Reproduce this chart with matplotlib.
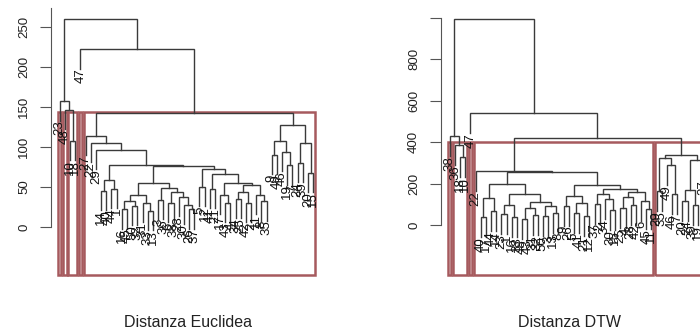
import matplotlib
matplotlib.use("Agg")
import matplotlib.pyplot as plt
from matplotlib.patches import Rectangle

# trees as nested (height, left, right); leaves are the series numbers
euc_p = (59, (45, 14, 40), (48, 44, 1))
euc_q1 = (55,
          (40, (32, (22, 16, 45), (26, 50, 32)), (30, 31, (20, 33, 13))),
          (49, (34, 3, 36), (44, (30, 6, 38), (38, 28, (28, 30, (22, 26, 37))))))
euc_q2 = (72, (50, 5, 12),
          (66, (48, 41, 21),
           (55, (40, 17, (30, 43, 4)),
            (52, (44, (35, 34, 25), (30, 42, 2)), (40, 11, (32, 8, 35))))))
euc_right = (128, (108, (90, 9, 49), (94, 46, (77, 19, 7))),
             (105, (80, 24, 39), (68, 20, 15)))
euc_main = (142, (114, 27, (105, 22, (96, 29, (78, euc_p, (76, euc_q1, euc_q2))))), euc_right)
euc_tree = (260, (157, 23, (146, 48, (108, 10, 18))), (222, 47, euc_main))

dtw_a2l = (200, (130, (40, 40, 17), (70, 44, 14)),
           (150, (100, (55, 23, 1), (40, 16, 33)),
            (115, (85, (30, 48, 43), (50, 31, 32)), (95, (45, 50, 3), (60, 13, 8)))))
dtw_a2r = (195, (140, (95, 9, 26), (110, (60, 5, 41), (45, 21, 12))),
           (175, (150, (105, 37, 2), (125, 34, (75, 30, 15))),
            (160, (135, (85, 25, 4), (100, 28, 42)), (120, 6, (80, 45, 11)))))
dtw_b = (339, (324, (165, 29, 35), (290, 49, (150, 46, 7))),
         (315, (170, (120, 20, 24), (100, 39, 19)), 27))
dtw_tree = (991, (430, 38, (387, 36, (330, 18, 10))),
            (540, 47, (420, (262, 22, (255, dtw_a2l, dtw_a2r)), dtw_b)))

euc_k = 5
dtw_k = 5
euc_ticks = [0, 50, 100, 150, 200, 250]
dtw_ticks = [0, 200, 400, 600, 800, 1000]
dtw_ticklabels = ["0", "200", "400", "600", "800", ""]

plt.rcParams['font.family'] = ['Liberation Sans', 'DejaVu Sans']
LINE = '#3a3a3a'
BOX = '#a65a5e'


def n_leaves(node):
    if not isinstance(node, tuple):
        return 1
    return n_leaves(node[1]) + n_leaves(node[2])


def heights(node):
    if not isinstance(node, tuple):
        return []
    return [node[0]] + heights(node[1]) + heights(node[2])


def draw_node(ax, node, hang, pos):
    if not isinstance(node, tuple):
        pos.append(node)
        return float(len(pos)), None
    h, a, b = node
    xa, ha = draw_node(ax, a, hang, pos)
    xb, hb = draw_node(ax, b, hang, pos)
    ya = h - hang if ha is None else ha
    yb = h - hang if hb is None else hb
    ax.plot([xa, xa, xb, xb], [ya, h, h, yb], color=LINE, lw=1.0,
            solid_joinstyle='miter')
    for x, y, child, hc in ((xa, ya, a, ha), (xb, yb, b, hb)):
        if hc is None:
            ax.text(x, y, str(child), rotation=90, ha='center', va='top',
                    fontsize=9.5, color='#111111')
    return (xa + xb) / 2, h


def cut(node, thr, start, out):
    n = n_leaves(node)
    if not isinstance(node, tuple) or node[0] < thr:
        out.append((start, start + n - 1))
    else:
        cut(node[1], thr, start, out)
        cut(node[2], thr, start + n_leaves(node[1]), out)


def dendro(ax, tree, k, ylim, ticks, ticklabels, axis_top):
    hs = sorted(heights(tree), reverse=True)
    hang = 0.1 * (hs[0] - hs[-1])
    draw_node(ax, tree, hang, [])
    thr = (hs[k - 2] + hs[k - 1]) / 2
    groups = []
    cut(tree, thr, 1, groups)
    for a, b in groups:
        ax.add_patch(Rectangle((a - 0.34, ylim[0]), b - a + 0.67, thr - ylim[0],
                               fill=False, ec=BOX, lw=1.8, clip_on=False))
    ax.set_xlim(-0.7, 51.72)
    ax.set_ylim(*ylim)
    for s in ('top', 'right', 'bottom'):
        ax.spines[s].set_visible(False)
    ax.spines['left'].set_bounds(0, axis_top)
    ax.spines['left'].set_color('#555555')
    ax.set_xticks([])
    ax.set_yticks(ticks)
    ax.set_yticklabels(ticklabels, rotation=90, va='center')
    ax.tick_params(axis='y', length=8, width=0.8, color='#555555',
                   labelcolor='#222222', labelsize=9.5, pad=7)


fig = plt.figure(figsize=(7, 3.33), dpi=100)
ax1 = fig.add_axes([51 / 700, 0.1742, 271 / 700, 0.7976])
ax2 = fig.add_axes([441 / 700, 0.1742, 271 / 700, 0.7976])

dendro(ax1, euc_tree, euc_k, (-60, 272), euc_ticks,
       [str(t) for t in euc_ticks], 274)
dendro(ax2, dtw_tree, dtw_k, (-238, 1039), dtw_ticks, dtw_ticklabels, 1000)

fig.text(188 / 700, 0.031, "Distanza Euclidea", ha='center', va='center',
         fontsize=11.5, color='#222222')
fig.text(570 / 700, 0.031, "Distanza DTW", ha='center', va='center',
         fontsize=11.5, color='#222222')

fig.savefig("out.png", dpi=100)
